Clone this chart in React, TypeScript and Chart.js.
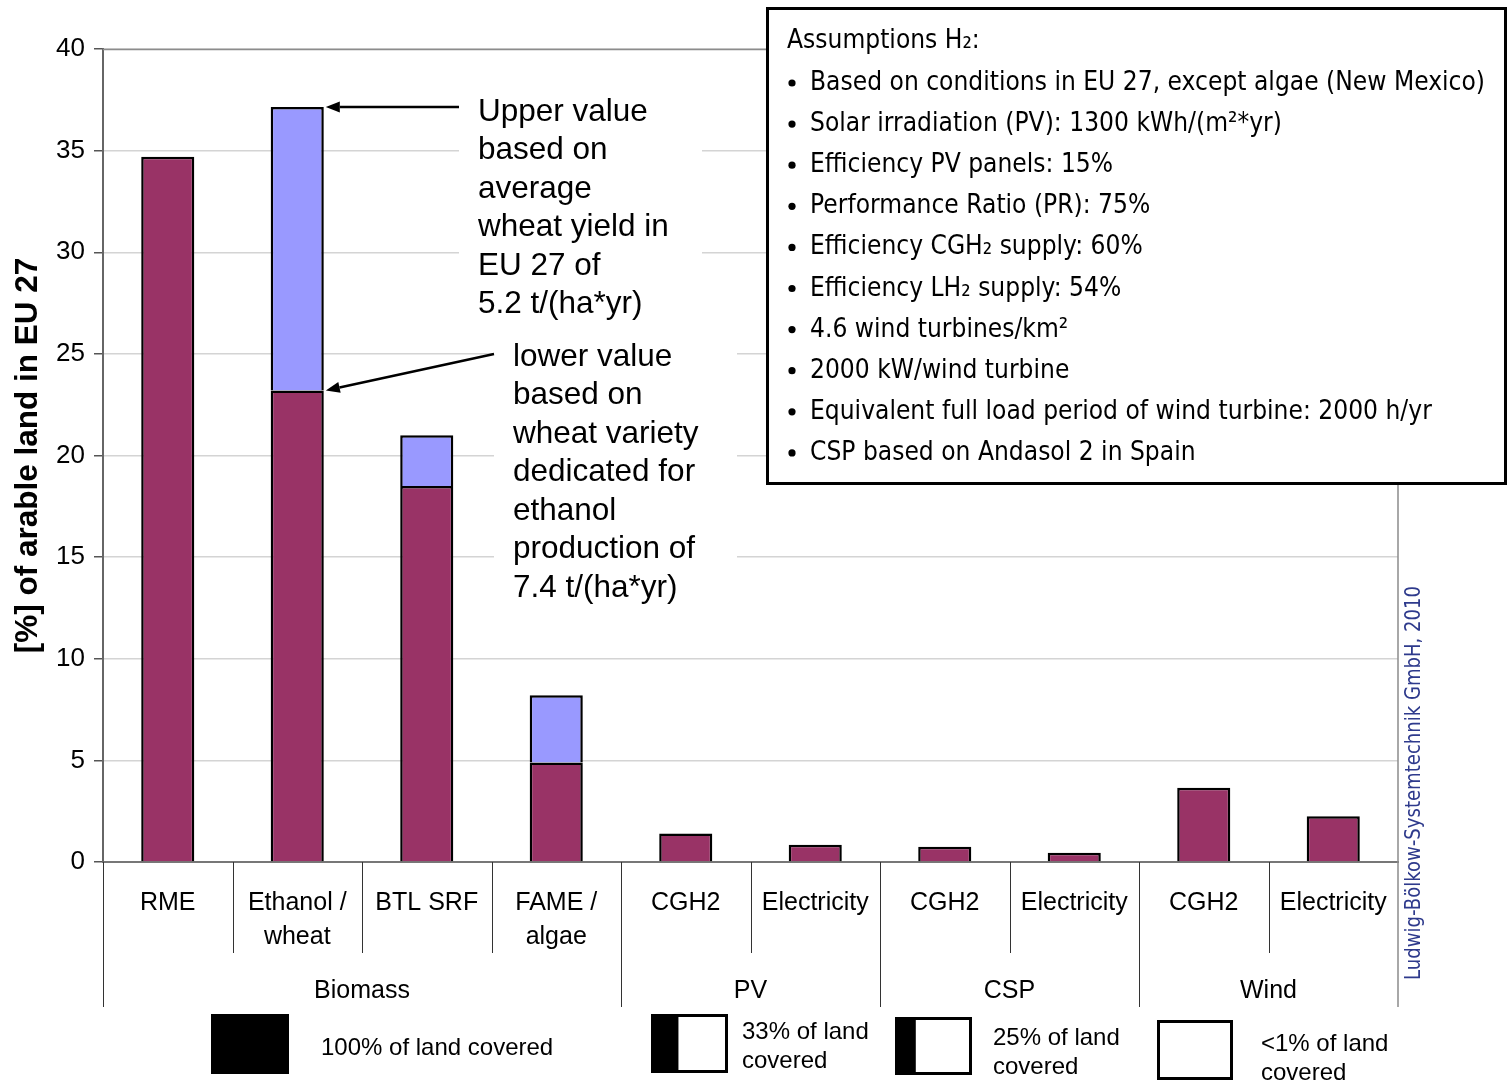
import React, { useEffect, useRef } from "react";
import { Chart, registerables } from "chart.js";

Chart.register(...registerables);

// ---------- data ----------
const categoryLines: string[][] = [
  ["RME"],
  ["Ethanol /", "wheat"],
  ["BTL SRF"],
  ["FAME /", "algae"],
  ["CGH2"],
  ["Electricity"],
  ["CGH2"],
  ["Electricity"],
  ["CGH2"],
  ["Electricity"],
];
const categories = categoryLines.map((l) => l.join(" "));
const groupNames = ["Biomass", "PV", "CSP", "Wind"];
const groupSizes = [4, 2, 2, 2];
const lowerValues = [34.7, 23.2, 18.5, 4.9, 1.4, 0.85, 0.75, 0.45, 3.65, 2.25];
const upperValues: (number | null)[] = [null, 37.15, 21.0, 8.2, null, null, null, null, null, null];
const yMin = 0;
const yMax = 40;
const yStep = 5;
const yTitle = "[%] of arable land in EU 27";

const upperNote = ["Upper value", "based on", "average", "wheat yield in", "EU 27 of", "5.2 t/(ha*yr)"];
const lowerNote = ["lower value", "based on", "wheat variety", "dedicated for", "ethanol", "production of", "7.4 t/(ha*yr)"];

const assumptionsTitle = "Assumptions H\u2082:";
const assumptions = [
  "Based on conditions in EU 27, except algae (New Mexico)",
  "Solar irradiation (PV): 1300 kWh/(m\u00b2*yr)",
  "Efficiency PV panels: 15%",
  "Performance Ratio (PR): 75%",
  "Efficiency CGH\u2082 supply: 60%",
  "Efficiency LH\u2082 supply: 54%",
  "4.6 wind turbines/km\u00b2",
  "2000 kW/wind turbine",
  "Equivalent full load period of wind turbine: 2000 h/yr",
  "CSP based on Andasol 2 in Spain",
];
const watermark = "Ludwig-B\u00f6lkow-Systemtechnik GmbH, 2010";

const legendLabels: string[][] = [
  ["100% of land covered"],
  ["33% of land", "covered"],
  ["25% of land", "covered"],
  ["<1% of land", "covered"],
];
const legendCoverage = [1, 0.33, 0.25, 0];

// ---------- styles ----------
const SANS = "'Liberation Sans', Arial, sans-serif";
const TAHOMA = "'DejaVu Sans', Verdana, sans-serif";
const MAROON = "#993366";
const LILAC = "#9999FF";

function drawArrow(ctx: CanvasRenderingContext2D, x1: number, y1: number, x2: number, y2: number) {
  const ang = Math.atan2(y2 - y1, x2 - x1);
  const head = 14;
  const hw = 5.5;
  const bx = x2 - head * Math.cos(ang);
  const by = y2 - head * Math.sin(ang);
  ctx.beginPath();
  ctx.moveTo(x1, y1);
  ctx.lineTo(bx, by);
  ctx.lineWidth = 2.5;
  ctx.strokeStyle = "#000";
  ctx.stroke();
  ctx.beginPath();
  ctx.moveTo(x2, y2);
  ctx.lineTo(bx - hw * Math.sin(ang), by + hw * Math.cos(ang));
  ctx.lineTo(bx + hw * Math.sin(ang), by - hw * Math.cos(ang));
  ctx.closePath();
  ctx.fillStyle = "#000";
  ctx.fill();
}

const customPlugin = {
  id: "customDecor",
  beforeDatasetsDraw(chart: any) {
    const ctx: CanvasRenderingContext2D = chart.ctx;
    ctx.save();
    ctx.fillStyle = "#fff";
    ctx.fillRect(459, 88, 243, 242);
    ctx.fillRect(494, 336, 243, 270);
    ctx.restore();
  },
  afterDraw(chart: any) {
    const ctx: CanvasRenderingContext2D = chart.ctx;
    const area = chart.chartArea;
    const xs = chart.scales.x;
    const n = categories.length;
    ctx.save();

    // plot border top/right
    ctx.strokeStyle = "#8c8c8c";
    ctx.lineWidth = 1.5;
    ctx.beginPath();
    ctx.moveTo(area.left, area.top + 0.5);
    ctx.lineTo(area.right, area.top + 0.5);
    ctx.moveTo(area.right, area.top);
    ctx.lineTo(area.right, 1007);
    ctx.stroke();

    // category dividers
    const centers = categories.map((_, i) => xs.getPixelForValue(i));
    const bounds: number[] = [area.left];
    for (let i = 1; i < n; i++) bounds.push((centers[i - 1] + centers[i]) / 2);
    bounds.push(area.right);
    const groupEdges = new Set<number>();
    let acc = 0;
    groupEdges.add(0);
    groupSizes.forEach((s) => {
      acc += s;
      groupEdges.add(acc);
    });
    ctx.strokeStyle = "#333";
    ctx.lineWidth = 1;
    bounds.forEach((bx, i) => {
      if (i === n) return;
      const bottom = groupEdges.has(i) ? 1007 : 953;
      ctx.beginPath();
      ctx.moveTo(Math.round(bx) + 0.5, area.bottom);
      ctx.lineTo(Math.round(bx) + 0.5, bottom);
      ctx.stroke();
    });

    // category labels
    ctx.fillStyle = "#000";
    ctx.font = `25px ${SANS}`;
    ctx.textAlign = "center";
    ctx.textBaseline = "middle";
    categoryLines.forEach((lines, i) => {
      lines.forEach((t, j) => ctx.fillText(t, centers[i], 903 + j * 34));
    });
    // group labels
    acc = 0;
    groupNames.forEach((g, k) => {
      const a = bounds[acc];
      const b = bounds[acc + groupSizes[k]];
      ctx.fillText(g, (a + b) / 2, 991);
      acc += groupSizes[k];
    });

    // y title
    ctx.save();
    ctx.translate(28, (area.top + area.bottom) / 2);
    ctx.rotate(-Math.PI / 2);
    ctx.font = `bold 31.5px ${SANS}`;
    ctx.fillText(yTitle, 0, 0);
    ctx.restore();

    // notes
    ctx.textAlign = "left";
    ctx.font = `31.5px ${SANS}`;
    upperNote.forEach((t, j) => ctx.fillText(t, 478, 112 + j * 38.5));
    lowerNote.forEach((t, j) => ctx.fillText(t, 513, 357 + j * 38.5));

    // arrows
    const ex = xs.getPixelForValue(1);
    const half = (centers[1] - centers[0]) * 0.41 / 2;
    const yUp = chart.scales.y.getPixelForValue(upperValues[1] as number);
    const yLo = chart.scales.y.getPixelForValue(lowerValues[1]);
    drawArrow(ctx, 459, yUp, ex + half + 2, yUp);
    drawArrow(ctx, 494, 354, ex + half + 2, yLo);

    // legend
    const boxes = [
      { x: 211, y: 1014, w: 78, h: 60, tx: 321, ty: 1048 },
      { x: 651, y: 1014, w: 77, h: 59, tx: 742, ty: 1032 },
      { x: 895, y: 1017, w: 77, h: 58, tx: 993, ty: 1038 },
      { x: 1157, y: 1020, w: 76, h: 60, tx: 1261, ty: 1044 },
    ];
    ctx.font = `24px ${SANS}`;
    boxes.forEach((b, i) => {
      ctx.fillStyle = "#fff";
      ctx.fillRect(b.x, b.y, b.w, b.h);
      ctx.fillStyle = "#000";
      const fw = legendCoverage[i] >= 1 ? b.w : legendCoverage[i] * b.w * 1.08;
      if (fw > 0) ctx.fillRect(b.x, b.y, fw, b.h);
      ctx.strokeStyle = "#000";
      ctx.lineWidth = 3;
      ctx.strokeRect(b.x + 1.5, b.y + 1.5, b.w - 3, b.h - 3);
      legendLabels[i].forEach((t, j) => ctx.fillText(t, b.tx, b.ty + j * 29));
    });

    // assumptions box
    ctx.fillStyle = "#fff";
    ctx.fillRect(766, 7, 741, 478);
    ctx.strokeStyle = "#000";
    ctx.lineWidth = 3;
    ctx.strokeRect(767.5, 8.5, 738, 475);
    ctx.fillStyle = "#000";
    ctx.font = `27px ${TAHOMA}`;
    const target = 1485 - 810;
    const sc = target / ctx.measureText(assumptions[0]).width;
    const drawSc = (t: string, x: number, y: number) => {
      ctx.save();
      ctx.translate(x, y);
      ctx.scale(sc, 1);
      ctx.fillText(t, 0, 0);
      ctx.restore();
    };
    drawSc(assumptionsTitle, 787, 41);
    assumptions.forEach((t, i) => {
      const y = 83 + i * 41.1;
      ctx.beginPath();
      ctx.arc(792, y, 3.6, 0, Math.PI * 2);
      ctx.fill();
      drawSc(t, 810, y);
    });

    // watermark
    ctx.save();
    ctx.translate(1415, 783);
    ctx.rotate(-Math.PI / 2);
    ctx.font = `21px ${TAHOMA}`;
    ctx.fillStyle = "#2e3a8c";
    ctx.textAlign = "center";
    const wsc = 394 / ctx.measureText(watermark).width;
    ctx.scale(wsc, 1);
    ctx.fillText(watermark, 0, 0);
    ctx.restore();

    ctx.restore();
  },
};

export default function App() {
  const ref = useRef<HTMLCanvasElement | null>(null);
  useEffect(() => {
    if (!ref.current) return;
    const upperDiff = upperValues.map((u, i) => (u == null ? null : u - lowerValues[i]));
    const chart = new Chart(ref.current, {
      type: "bar",
      data: {
        labels: categories,
        datasets: [
          {
            label: "lower",
            data: lowerValues,
            backgroundColor: MAROON,
            borderColor: "#000",
            borderWidth: 2.5,
            borderSkipped: "bottom",
            barPercentage: 1,
            categoryPercentage: 0.41,
          },
          {
            label: "upper",
            data: upperDiff as any,
            backgroundColor: LILAC,
            borderColor: "#000",
            borderWidth: 2.5,
            borderSkipped: "bottom",
            barPercentage: 1,
            categoryPercentage: 0.41,
          },
        ],
      },
      options: {
        responsive: false,
        animation: false,
        events: [],
        layout: { padding: { left: 0, top: 49, right: 111, bottom: 0 } },
        plugins: { legend: { display: false }, tooltip: { enabled: false }, title: { display: false } },
        scales: {
          x: {
            stacked: true,
            ticks: { display: false },
            grid: { display: false },
            border: { display: true, color: "#777", width: 2 },
            afterFit: (s: any) => {
              s.height = 219;
            },
          },
          y: {
            stacked: true,
            min: yMin,
            max: yMax,
            ticks: {
              stepSize: yStep,
              color: "#000",
              font: { family: SANS, size: 26 },
              padding: 9,
            },
            grid: { color: "#d4d4d4", lineWidth: 1.5, tickLength: 9, tickColor: "#555" },
            border: { display: true, color: "#666", width: 2 },
            afterFit: (s: any) => {
              s.width = 103;
            },
          },
        },
      },
      plugins: [customPlugin],
    });
    return () => chart.destroy();
  }, []);
  return (
    <div style={{ position: "absolute", left: 0, top: 0, width: 1509, height: 1081, background: "#fff" }}>
      <canvas ref={ref} width={1509} height={1081} style={{ width: 1509, height: 1081, display: "block" }} />
    </div>
  );
}
